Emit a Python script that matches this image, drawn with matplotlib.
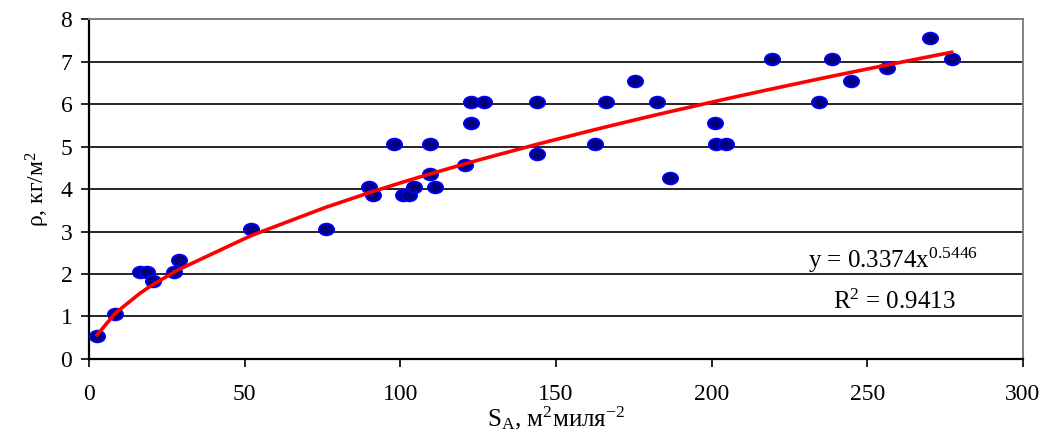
import numpy as np
import matplotlib.pyplot as plt
from matplotlib.path import Path
from matplotlib.transforms import Affine2D

plt.rcParams['font.family'] = ['Liberation Serif', 'DejaVu Serif']
plt.rcParams['mathtext.fontset'] = 'custom'
plt.rcParams['mathtext.rm'] = 'Liberation Serif'
plt.rcParams['mathtext.it'] = 'Liberation Serif:italic'

# данные: S_A (м2/миля2) и плотность rho (кг/м2)
s_a = [2.6, 8.4, 16.4, 18.5, 20.7, 27.4, 28.9, 52.0, 76.1, 89.8, 91.3, 98.0,
       100.8, 102.9, 104.4, 109.5, 109.5, 111.1, 120.8, 122.7, 122.7, 126.9,
       144.0, 144.0, 162.5, 166.0, 175.5, 182.4, 186.5, 201.0, 201.4, 204.5,
       219.5, 234.5, 238.6, 244.8, 256.4, 270.2, 277.1]
rho = [0.55, 1.05, 2.05, 2.05, 1.84, 2.05, 2.33, 3.05, 3.05, 4.04, 3.85, 5.05,
       3.85, 3.85, 4.04, 5.05, 4.35, 4.04, 4.56, 6.04, 5.55, 6.04,
       6.04, 4.83, 5.05, 6.04, 6.53, 6.04, 4.25, 5.55, 5.05, 5.05,
       7.05, 6.04, 7.05, 6.53, 6.84, 7.56, 7.05]

# степенной тренд (коэффициенты с графика)
a_coef = 0.3374
b_coef = 0.5446
r2 = 0.9413

x_tr = np.sort(np.array(s_a))
y_tr = a_coef * x_tr ** b_coef

# эллипс вместо круга
ell = Path.unit_circle().transformed(Affine2D().scale(1.3, 1.0))

fig = plt.figure(figsize=(10.4, 4.37), dpi=100)
ax = fig.add_axes([0.0856, 0.1785, 0.898, 0.778])

for y in range(1, 9):
    ax.axhline(y, color='black', lw=1.2, zorder=1)

ax.scatter(s_a, rho, marker=ell, s=120, facecolor='#000080', edgecolor='#0000ff',
           linewidth=1.3, zorder=3)
ax.plot(x_tr, y_tr, color='#ff0000', lw=2.6, zorder=4)

ax.set_xlim(0, 300)
ax.set_ylim(0, 8)
ax.set_xticks(range(0, 301, 50))
ax.set_yticks(range(0, 9))
ax.tick_params(direction='out', length=6, width=1.2, labelsize=17, color='black')
ax.tick_params(axis='x', pad=12)
ax.tick_params(axis='y', pad=6)

for side in ['left', 'bottom']:
    ax.spines[side].set_linewidth(1.6)
    ax.spines[side].set_color('black')
for side in ['top', 'right']:
    ax.spines[side].set_linewidth(1.4)
    ax.spines[side].set_color('#808080')

ax.set_xlabel(r'S$_{\mathrm{A}}$, м$^{2}$миля$^{-2}$', fontsize=18, labelpad=0)
ax.set_ylabel(r'ρ, кг/м$^{2}$', fontsize=17, labelpad=6)

ax.text(231, 2.14, r'y = 0.3374x$^{0.5446}$', fontsize=18, ha='left', va='baseline')
ax.text(239, 1.17, r'R$^{2}$ = %.4f' % r2, fontsize=18, ha='left', va='baseline')

fig.savefig('out.png', dpi=100)
